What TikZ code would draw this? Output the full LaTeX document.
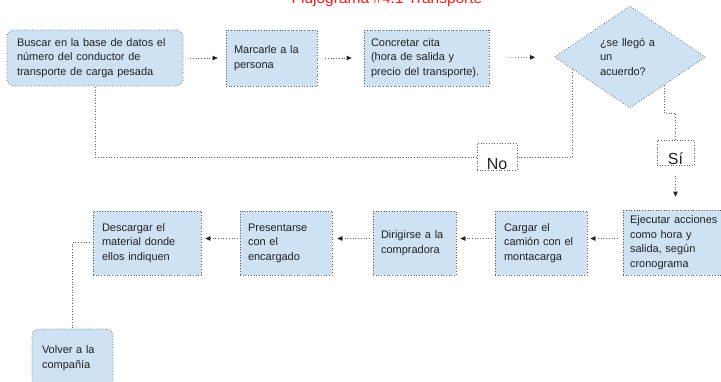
\documentclass[tikz,border=0pt]{standalone}
\usepackage{fontspec}
\setmainfont{Liberation Sans}
\usetikzlibrary{shapes.geometric,arrows.meta,calc}
\definecolor{boxfill}{HTML}{CFE2F3}
\definecolor{txt}{HTML}{222222}
\definecolor{edge}{HTML}{5A5A5A}
\definecolor{tip}{HTML}{222222}
\definecolor{ttl}{HTML}{FF1A1A}
\tikzset{
  stepbox/.style={draw=edge, dotted, line width=0.7pt, fill=boxfill, inner sep=0pt,
    align=left, text=txt, font=\fontsize{11}{14.5}\selectfont},
  roundbox/.style={stepbox, rounded corners=7pt},
  decision/.style={stepbox, diamond},
  answer/.style={draw=edge, dotted, line width=0.7pt, inner sep=0pt, text=txt,
    font=\fontsize{16}{18}\selectfont, anchor=north},
  link/.style={draw=edge, dotted, line width=0.7pt},
  flow/.style={link, -{Triangle[length=5pt,width=4.5pt,color=tip]}},
}
\begin{document}
\begin{tikzpicture}[x=1pt,y=-1pt]
\path[use as bounding box, clip] (0,0) rectangle (721,381);
% title
\node[anchor=base, text=ttl, font=\fontsize{15.5}{18}\selectfont, inner sep=0pt] (title) at (387,3.5) {Flujograma \#4.1 Transporte};
% top row
\node[roundbox, minimum width=176pt, minimum height=56pt, text width=156pt] (b1) at (95,58)
  {Buscar en la base de datos el\\número del conductor de\\transporte de carga pesada};
\node[stepbox, minimum width=91pt, minimum height=56pt, text width=75pt] (b2) at (271.5,58)
  {Marcarle a la\\persona};
\node[stepbox, minimum width=125pt, minimum height=56pt, text width=111pt] (b3) at (426.5,58)
  {Concretar cita\\(hora de salida y\\precio del transporte).};
\node[decision, minimum width=151pt, minimum height=102pt, text width=60pt] (d) at (630,57)
  {¿se llegó a\\un\\acuerdo?};
% answers
\node[answer, minimum width=40pt, text height=26pt, text depth=1pt] (no) at (497,143) {No};
\node[answer, minimum width=37pt, text height=24pt, text depth=1pt] (si) at (675.5,140) {Sí};
% bottom row
\node[stepbox, minimum width=107pt, minimum height=65pt, text width=93pt] (b5) at (676.5,242.5)
  {Ejecutar acciones\\como hora y\\salida, según\\cronograma};
\node[stepbox, minimum width=92pt, minimum height=64pt, text width=74pt] (b6) at (541,243)
  {Cargar el\\camión con el\\montacarga};
\node[stepbox, minimum width=83pt, minimum height=64pt, text width=67pt] (b7) at (414.5,243)
  {Dirigirse a la\\compradora};
\node[stepbox, minimum width=92pt, minimum height=64pt, text width=76pt] (b8) at (286,243)
  {Presentarse\\con el\\encargado};
\node[stepbox, minimum width=108pt, minimum height=64pt, text width=90pt] (b9) at (147,243)
  {Descargar el\\material donde\\ellos indiquen};
\node[roundbox, minimum width=81pt, minimum height=58pt, text width=61pt] (b10) at (72.5,358)
  {Volver a la\\compañía};
% connectors top row
\draw[flow, shorten <=7pt, shorten >=8pt] (b1.east) -- (b2.west);
\draw[flow, shorten <=8pt, shorten >=12pt] (b2.east) -- (b3.west);
\draw[flow, shorten <=18pt, shorten >=19pt] (b3.east) -- (d.west);
% decision branches
\coordinate (nostart) at ($(d.west)!0.24!(d.south)$);
\coordinate (sistart) at ($(d.south)!0.45!(d.east)$);
\draw[link] (nostart) |- (no.east);
\draw[link] (no.west) -| (b1.south);
\draw[link] (sistart) |- ([yshift=27pt]si.north) -- (si.north);
\draw[flow, shorten <=10pt, shorten >=13pt] (si.south) -- (si.south |- b5.north);
% connectors bottom row
\draw[flow, shorten <=5pt, shorten >=3pt] ([yshift=4pt]b5.west) -- ([yshift=4pt]b5.west -| b6.east);
\draw[flow, shorten <=3pt, shorten >=4pt] ([yshift=4.5pt]b6.west) -- ([yshift=4.5pt]b6.west -| b7.east);
\draw[flow, shorten <=3pt, shorten >=5pt] ([yshift=4.5pt]b7.west) -- ([yshift=4.5pt]b7.west -| b8.east);
\draw[flow, shorten <=2pt, shorten >=4pt] ([yshift=4.5pt]b8.west) -- ([yshift=4.5pt]b8.west -| b9.east);
\draw[link, shorten <=3pt] ([yshift=1pt]b9.west) -| (b10.north);
\end{tikzpicture}
\end{document}
